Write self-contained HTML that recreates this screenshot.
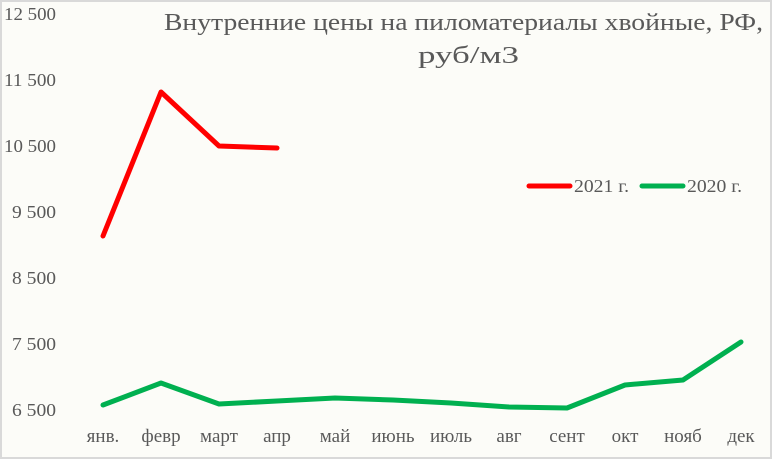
<!DOCTYPE html>
<html><head><meta charset="utf-8"><style>
html,body{margin:0;padding:0;background:#fff}
svg{display:block}
text{font-family:"Liberation Serif",serif;fill:#595959}
</style></head><body>
<svg width="772" height="459" viewBox="0 0 772 459">
<rect x="1" y="1" width="770" height="457" fill="#fcfcf8" stroke="#d9d9d9" stroke-width="2"/>
<g font-size="18">
<text x="4" y="20" textLength="52" lengthAdjust="spacingAndGlyphs">12 500</text>
<text x="4" y="86" textLength="52" lengthAdjust="spacingAndGlyphs">11 500</text>
<text x="4" y="152" textLength="52" lengthAdjust="spacingAndGlyphs">10 500</text>
<text x="12" y="218" textLength="44" lengthAdjust="spacingAndGlyphs">9 500</text>
<text x="12" y="284" textLength="44" lengthAdjust="spacingAndGlyphs">8 500</text>
<text x="12" y="350" textLength="44" lengthAdjust="spacingAndGlyphs">7 500</text>
<text x="12" y="416" textLength="44" lengthAdjust="spacingAndGlyphs">6 500</text>
</g>
<g font-size="19" text-anchor="middle">
<text x="103" y="442">янв.</text><text x="161" y="442">февр</text><text x="219" y="442">март</text><text x="277" y="442">апр</text><text x="335" y="442">май</text><text x="393" y="442">июнь</text><text x="451" y="442">июль</text><text x="509" y="442">авг</text><text x="567" y="442">сент</text><text x="625" y="442">окт</text><text x="683" y="442">нояб</text><text x="741" y="442">дек</text>
</g>
<g font-size="24">
<text x="164" y="30" textLength="599" lengthAdjust="spacingAndGlyphs">Внутренние цены на пиломатериалы хвойные, РФ,</text>
<text x="418" y="63" textLength="101" lengthAdjust="spacingAndGlyphs">руб/м3</text>
</g>
<polyline fill="none" stroke="#ff0000" stroke-width="5" stroke-linejoin="round" stroke-linecap="round" points="103,236 161,92 219,146 277,148"/>
<polyline fill="none" stroke="#00b050" stroke-width="5" stroke-linejoin="round" stroke-linecap="round" points="103,405 161,383 219,404 277,401 335,398 393,400 451,403 509,407 567,408 625,385 683,380 741,342"/>
<line x1="529" y1="186" x2="570" y2="186" stroke="#ff0000" stroke-width="5" stroke-linecap="round"/>
<line x1="642" y1="186" x2="683" y2="186" stroke="#00b050" stroke-width="5" stroke-linecap="round"/>
<g font-size="18"><text x="574" y="192" textLength="55" lengthAdjust="spacingAndGlyphs">2021 г.</text><text x="687" y="192" textLength="55" lengthAdjust="spacingAndGlyphs">2020 г.</text></g>
</svg>
</body></html>
